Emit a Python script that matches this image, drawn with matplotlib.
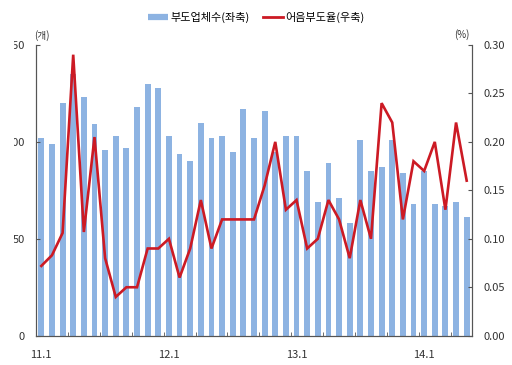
import matplotlib
matplotlib.use("Agg")
import matplotlib.pyplot as plt
from matplotlib.lines import Line2D
from matplotlib.transforms import Bbox, TransformedBbox
import numpy as np

plt.rcParams['font.family'] = ['Noto Sans CJK KR', 'DejaVu Sans']

# monthly data 2011.1 ~ 2014.5
firms = [102, 99, 120, 135, 123, 109, 96, 103, 97, 118, 130, 128,
         103, 94, 90, 110, 102, 103, 95, 117, 102, 116, 95, 103,
         103, 85, 69, 89, 71, 58, 101, 85, 87, 101, 84, 68,
         85, 68, 67, 69, 61]
rate = [0.072, 0.083, 0.106, 0.29, 0.107, 0.205, 0.08, 0.04, 0.05, 0.05, 0.09, 0.09,
        0.10, 0.06, 0.09, 0.14, 0.09, 0.12, 0.12, 0.12, 0.12, 0.155, 0.20, 0.13,
        0.14, 0.09, 0.10, 0.14, 0.12, 0.08, 0.14, 0.10, 0.24, 0.22, 0.12, 0.18,
        0.17, 0.20, 0.13, 0.22, 0.16]
xlabels = ['11.1', '12.1', '13.1', '14.1']
left_ticks = [0, 50, 100, 150]
right_ticks = [0.00, 0.05, 0.10, 0.15, 0.20, 0.25, 0.30]

bar_col = '#8DB3E2'
line_col = '#CC1A24'
txt_col = '#333333'
fs = 8

fig = plt.figure(figsize=(5.12, 3.65), dpi=100)
ax = fig.add_axes([36/512, 1-335.7/365, 436/512, 290.7/365])
ax2 = ax.twinx()

x = np.arange(len(firms))
ax.bar(x, firms, width=0.55, color=bar_col, zorder=1)
ax2.plot(x, rate, color=line_col, lw=1.9, solid_joinstyle='miter')

ax.set_xlim(-0.5, len(firms) - 0.5)
ax.set_ylim(0, 150)
ax2.set_ylim(0, 0.30)

ax.set_xticks([0, 12, 24, 36])
ax.set_xticklabels(xlabels, fontsize=fs, color=txt_col)
ax.tick_params(axis='x', which='major', length=0, pad=10)
ax.set_xticks(np.arange(2.5, len(firms) - 1, 3), minor=True)
ax.tick_params(axis='x', which='minor', direction='in', length=3, color='#555555')

ax.set_yticks(left_ticks)
ax.set_yticklabels([str(v) for v in left_ticks], fontsize=fs, color=txt_col)
ax.tick_params(axis='y', direction='in', length=3, pad=8, color='#555555')
ax2.set_yticks(right_ticks)
ax2.set_yticklabels(['%.2f' % v for v in right_ticks], fontsize=fs, color=txt_col)
ax2.tick_params(axis='y', direction='in', length=3, pad=8, color='#555555')

for a in (ax, ax2):
    a.spines['top'].set_visible(False)
    for s in ('left', 'right', 'bottom'):
        a.spines[s].set_color('#555555')
        a.spines[s].set_linewidth(0.8)

# the left labels are cut at the picture edge
clip = TransformedBbox(Bbox([[13.5/512, 0], [1, 1]]), fig.transFigure)
for lbl in ax.get_yticklabels():
    lbl.set_clip_box(clip)
    lbl.set_clip_on(True)

fig.text(42/512, 1-36/365, '(개)', fontsize=7, ha='center', va='center', color=txt_col)
fig.text(462/512, 1-35/365, '(%)', fontsize=7, ha='center', va='center', color=txt_col)

handles = [Line2D([], [], color=bar_col, lw=4.5, solid_capstyle='butt'),
           Line2D([], [], color=line_col, lw=2)]
fig.legend(handles, ['부도업체수(좌축)', '어음부도율(우축)'], loc='center',
           bbox_to_anchor=(0.5, 1-17/365), ncol=2, frameon=False, fontsize=8,
           handlelength=1.8, handletextpad=0.2, columnspacing=1.2)

fig.savefig('out.png', dpi=100)
